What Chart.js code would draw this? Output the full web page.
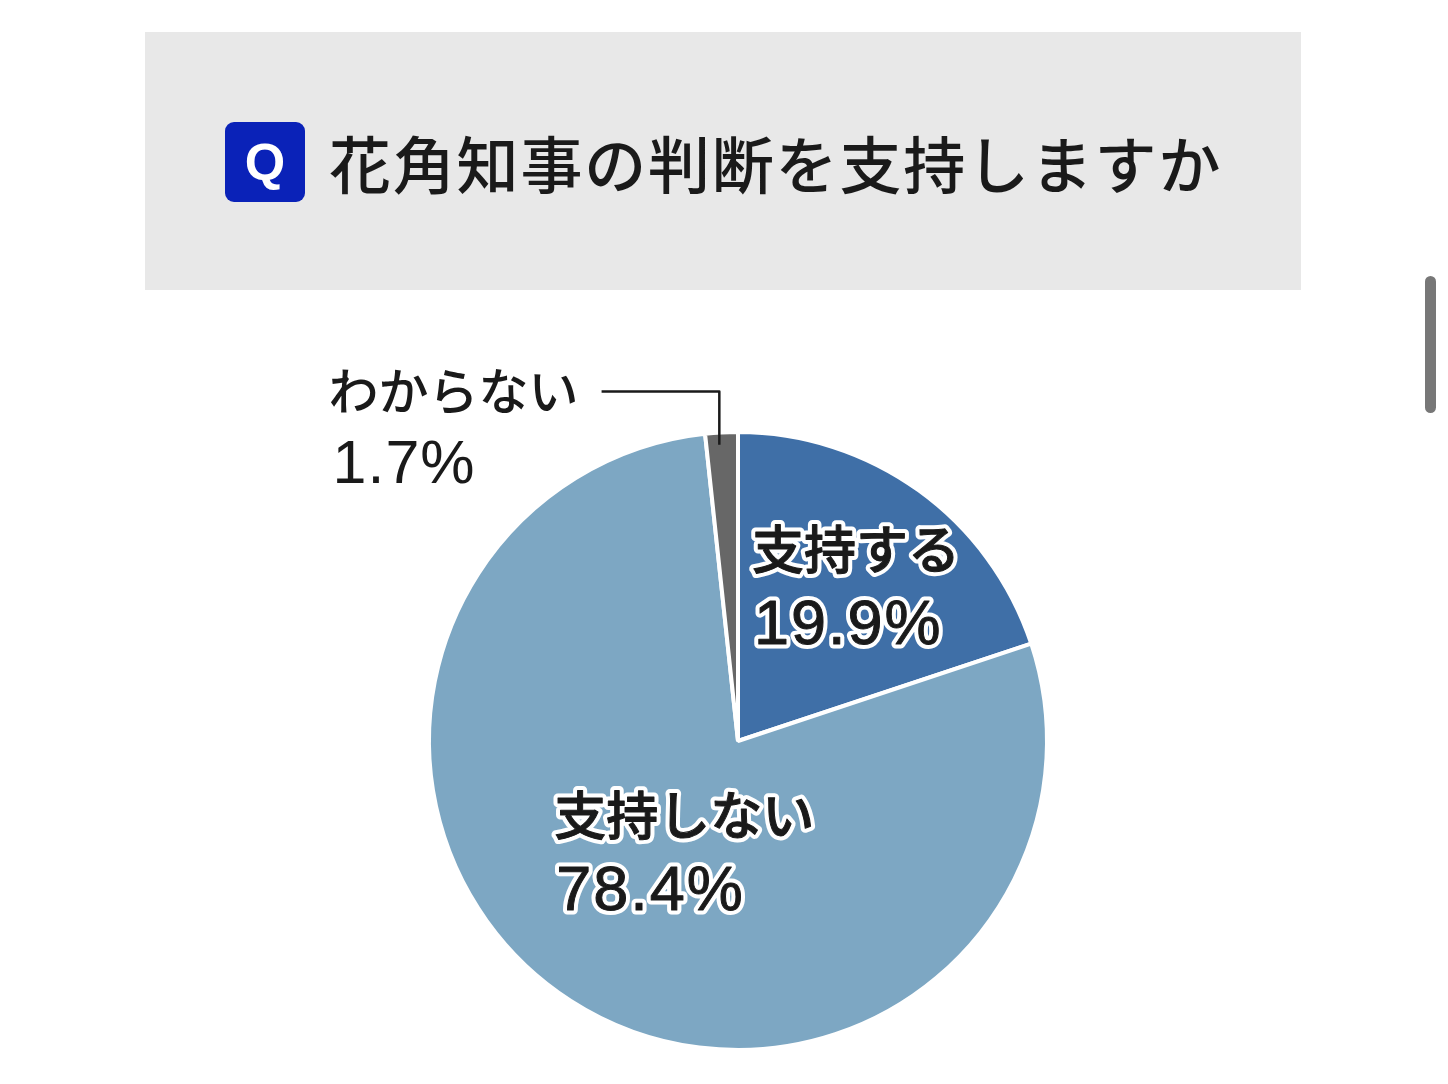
<!DOCTYPE html>
<html lang="ja">
<head>
<meta charset="utf-8">
<script src="https://cdn.jsdelivr.net/npm/chart.js@4/dist/chart.umd.min.js"></script>
<style>
  html, body { margin: 0; padding: 0; background: #ffffff; }
  body { width: 1448px; height: 1084px; position: relative; overflow: hidden;
         font-family: "Noto Sans CJK JP", "Noto Sans", sans-serif; }
  #titleBox { position: absolute; left: 145px; top: 32px; width: 1156px; height: 258px; background: #e8e8e8; }
  #qBadge { position: absolute; left: 225px; top: 122px; width: 80px; height: 80px; background: #0a22b8;
            border-radius: 9px; color: #fff; font-family: "Liberation Sans", Arial, sans-serif; font-weight: 700;
            font-size: 52px; line-height: 80px; text-align: center; }
  #titleText { position: absolute; left: 329px; top: 118px; font-size: 62px; font-weight: 500; color: #1a1a1a;
               line-height: 88px; white-space: nowrap; letter-spacing: 1.8px; }
  #chartWrap { position: absolute; left: 0; top: 0; width: 1448px; height: 1084px; }
  #scrollbar { position: absolute; left: 1425px; top: 276px; width: 11px; height: 137px; background: #777;
               border-radius: 6px; }
</style>
</head>
<body>
<div id="chartWrap"><canvas id="c"></canvas></div>
<div id="titleBox"></div>
<div id="qBadge">Q</div>
<div id="titleText">花角知事の判断を支持しますか</div>
<div id="scrollbar"></div>
<script>
const categories = ["支持する", "支持しない", "わからない"];
const values = [19.9, 78.4, 1.7];
const valueLabels = ["19.9%", "78.4%", "1.7%"];
const colors = ["#3f6fa7", "#7da7c3", "#676767"];

const labelPlugin = {
  id: "pieLabels",
  afterDatasetsDraw(chart) {
    const ctx = chart.ctx;
    const arcs = chart.getDatasetMeta(0).data;
    const a0 = arcs[0];
    const cx = a0.x, cy = a0.y, r = a0.outerRadius;
    ctx.save();
    ctx.textBaseline = "top";
    ctx.textAlign = "left";
    const jpFont = '500 52px "Noto Sans CJK JP", sans-serif';
    const numFont = '400 63px "Liberation Sans", Arial, sans-serif';
    function outlined(text, x, y, font, spacing) {
      ctx.font = font;
      ctx.letterSpacing = spacing;
      ctx.lineJoin = "round";
      ctx.lineWidth = 9;
      ctx.strokeStyle = "#ffffff";
      ctx.strokeText(text, x, y);
      ctx.fillStyle = "#1a1a1a";
      ctx.fillText(text, x, y);
      ctx.lineWidth = 1;
      ctx.strokeStyle = "#1a1a1a";
      ctx.strokeText(text, x, y);
      ctx.letterSpacing = "0px";
    }
    // inside labels
    const inside = [
      { i: 0, dx: 0.045, dy: -0.705 },
      { i: 1, dx: -0.595, dy: 0.155 }
    ];
    inside.forEach(o => {
      const x = cx + o.dx * r, y = cy + o.dy * r;
      outlined(categories[o.i], x, y, jpFont, "0px");
      outlined(valueLabels[o.i], x + 2, y + 72, numFont, "2px");
    });
    // outside label with leader line
    const a2 = arcs[2];
    const mid = (a2.startAngle + a2.endAngle) / 2;
    const lx = cx + Math.cos(mid) * r * 0.95 - 3;
    const ly = cy + Math.sin(mid) * r * 0.95 - 3;
    const textX = cx - 1.325 * r, textY = cy - 1.215 * r;
    ctx.strokeStyle = "#1a1a1a";
    ctx.lineWidth = 2.5;
    ctx.beginPath();
    ctx.moveTo(textX + 273, textY + 26);
    ctx.lineTo(lx, textY + 26);
    ctx.lineTo(lx, ly);
    ctx.stroke();
    ctx.font = '500 50px "Noto Sans CJK JP", sans-serif';
    ctx.fillStyle = "#1a1a1a";
    ctx.fillText(categories[2], textX, textY);
    ctx.font = '400 61px "Liberation Sans", Arial, sans-serif';
    ctx.letterSpacing = "1px";
    ctx.fillText(valueLabels[2], textX + 4, textY + 70);
    ctx.restore();
  }
};

new Chart(document.getElementById("c"), {
  type: "pie",
  data: {
    labels: categories,
    datasets: [{
      data: values,
      backgroundColor: colors,
      borderColor: "#ffffff",
      borderWidth: 4,
      hoverOffset: 0
    }]
  },
  options: {
    responsive: true,
    maintainAspectRatio: false,
    animation: false,
    radius: 309,
    layout: { padding: { left: 28, right: 0, top: 398, bottom: 0 } },
    plugins: { legend: { display: false }, tooltip: { enabled: false } },
    events: []
  },
  plugins: [labelPlugin]
});
</script>
</body>
</html>
